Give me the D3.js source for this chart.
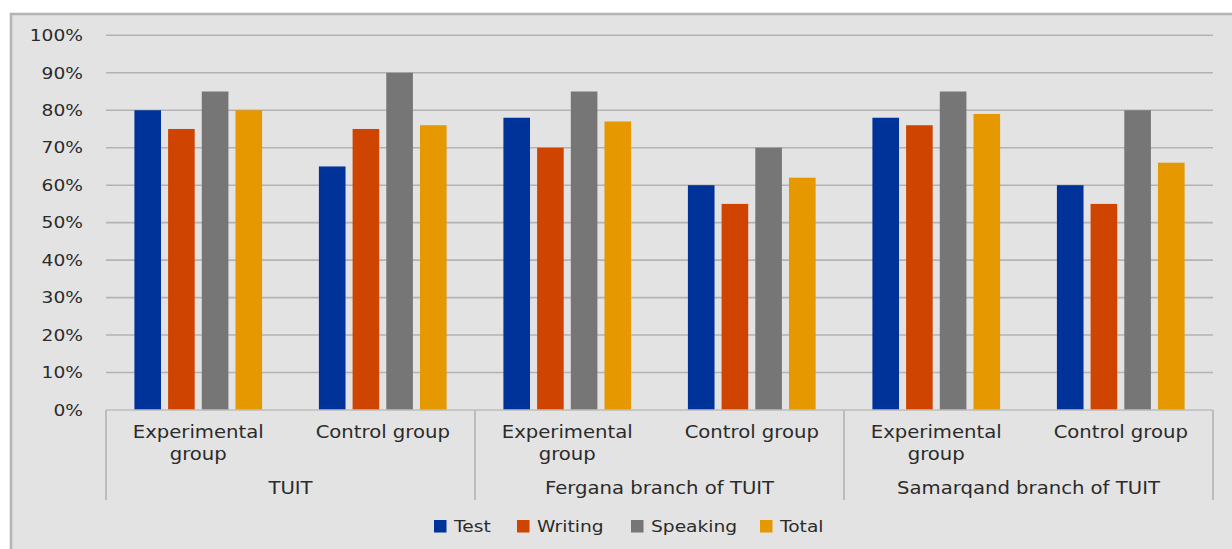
<!DOCTYPE html>
<html>
<head>
<meta charset="utf-8">
<script src="https://cdn.jsdelivr.net/npm/d3@7"></script>
<style>
  html, body { margin: 0; padding: 0; background: #ffffff; }
  svg { display: block; }
  text { font-family: "DejaVu Sans", sans-serif; fill: #2b2b2b; }
</style>
</head>
<body>
<svg id="chart" width="1232" height="549"></svg>
<script>
// Institutions (outer axis level) and groups within each (inner level)
const institutions = ["TUIT", "Fergana branch of TUIT", "Samarqand branch of TUIT"];
const groups = ["Experimental group", "Control group"];
const series = ["Test", "Writing", "Speaking", "Total"];
const seriesColors = ["#003399", "#cf4500", "#767676", "#e59800"];

// Scores per institution/group, one array per series (fractions of 1)
const testScores     = [0.80, 0.65, 0.78, 0.60, 0.78, 0.60];
const writingScores  = [0.75, 0.75, 0.70, 0.55, 0.76, 0.55];
const speakingScores = [0.85, 0.90, 0.85, 0.70, 0.85, 0.80];
const totalScores    = [0.80, 0.76, 0.77, 0.62, 0.79, 0.66];
const yTicks = [0, 0.1, 0.2, 0.3, 0.4, 0.5, 0.6, 0.7, 0.8, 0.9, 1.0];

const seriesValues = [testScores, writingScores, speakingScores, totalScores];
const categories = [];
institutions.forEach(inst => groups.forEach(g => categories.push(inst + "|" + g)));

const svg = d3.select("#chart");
const W = 1232, H = 549;
const plot = { left: 106, right: 1213, top: 35.3, bottom: 410 };
const textScale = 1.13;
const axisTextScale = 1.17;

// chart area background with border on top/left
svg.append("rect").attr("x", 11).attr("y", 14).attr("width", W - 11).attr("height", H - 14)
  .attr("fill", "#e3e3e3");
svg.append("path").attr("d", `M11,${H} V14 H${W}`).attr("fill", "none")
  .attr("stroke", "#b4b4b4").attr("stroke-width", 2.5);

const x = d3.scaleBand().domain(categories).range([plot.left, plot.right]).padding(0);
const xInner = d3.scaleBand().domain(series).range([0, x.bandwidth()])
  .paddingInner(0.21).paddingOuter(0.843);
const y = d3.scaleLinear().domain([0, 1]).range([plot.bottom, plot.top]);

// horizontal gridlines
svg.append("g").selectAll("line").data(yTicks.filter(t => t > 0)).join("line")
  .attr("x1", plot.left).attr("x2", plot.right)
  .attr("y1", d => y(d)).attr("y2", d => y(d))
  .attr("stroke", "#b3b3b3").attr("stroke-width", 1.6);

// y axis labels
const pct = d3.format(".0%");
svg.append("g").selectAll("text").data(yTicks).join("text")
  .attr("transform", d => `translate(83,${y(d)}) scale(${textScale},1)`)
  .attr("dy", "0.35em").attr("text-anchor", "end")
  .style("font-size", "16.5px")
  .text(d => pct(d));

// bars
const barData = [];
categories.forEach((c, ci) => series.forEach((s, si) => {
  barData.push({ cat: c, series: s, value: seriesValues[si][ci], color: seriesColors[si] });
}));
svg.append("g").selectAll("rect").data(barData).join("rect")
  .attr("x", d => x(d.cat) + xInner(d.series))
  .attr("width", xInner.bandwidth())
  .attr("y", d => y(d.value))
  .attr("height", d => y(0) - y(d.value))
  .attr("fill", d => d.color);

// baseline and institution separators
svg.append("line").attr("x1", plot.left).attr("x2", plot.right)
  .attr("y1", plot.bottom).attr("y2", plot.bottom)
  .attr("stroke", "#bcbcbc").attr("stroke-width", 1.6);
const sepX = [0, 2, 4].map(i => x(categories[i])).concat([plot.right]);
svg.append("g").selectAll("line").data(sepX).join("line")
  .attr("x1", d => d).attr("x2", d => d)
  .attr("y1", plot.bottom).attr("y2", 500)
  .attr("stroke", "#bcbcbc").attr("stroke-width", 2);

// inner category labels (wrapped as in the axis)
const wrapLines = { "Experimental group": ["Experimental", "group"], "Control group": ["Control group"] };
const catLabels = svg.append("g");
categories.forEach(c => {
  const g = c.split("|")[1];
  const cx = x(c) + x.bandwidth() / 2;
  wrapLines[g].forEach((line, li) => {
    catLabels.append("text")
      .attr("transform", `translate(${cx},${437.5 + li * 22.5}) scale(${axisTextScale},1)`)
      .attr("text-anchor", "middle").style("font-size", "16.8px")
      .text(line);
  });
});

// outer institution labels
svg.append("g").selectAll("text").data(institutions).join("text")
  .attr("transform", (d, i) => `translate(${(sepX[i] + sepX[i + 1]) / 2},494) scale(${axisTextScale},1)`)
  .attr("text-anchor", "middle").style("font-size", "16.8px")
  .text(d => d);

// legend
const legendX = [434, 517, 631, 760];
const legend = svg.append("g").selectAll("g").data(series).join("g")
  .attr("transform", (d, i) => `translate(${legendX[i]},520)`);
legend.append("rect").attr("width", 12.5).attr("height", 12.5)
  .attr("fill", (d, i) => seriesColors[i]);
legend.append("text")
  .attr("transform", `translate(20,12) scale(${textScale},1)`)
  .style("font-size", "16.5px")
  .text(d => d);
</script>
</body>
</html>
